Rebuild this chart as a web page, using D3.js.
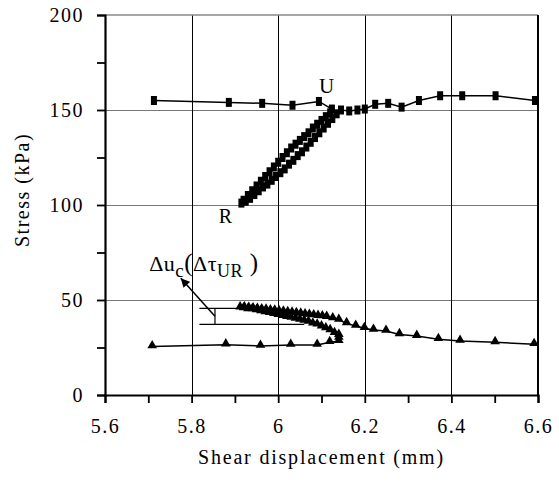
<!DOCTYPE html>
<html lang="en">
<head>
<meta charset="UTF-8">
<title>Stress vs shear displacement</title>
<style>
  body { margin: 0; background: #fff; }
  svg text { font-family: "Liberation Serif", "Times New Roman", serif; fill: #000; }
</style>
</head>
<body>
<script src="https://cdn.jsdelivr.net/npm/d3@7"></script>
<script>
// shear stress (square markers): loading, unloading to R, reloading, continuing past U
var upperX = [5.713, 5.886, 5.963, 6.033, 6.094, 6.124,
  6.12, 6.11, 6.10, 6.09, 6.08, 6.07, 6.06, 6.05, 6.04, 6.03, 6.02, 6.01, 6.00, 5.99, 5.98, 5.97, 5.96, 5.95, 5.94, 5.93, 5.92, 5.915,
  5.925, 5.935, 5.945, 5.955, 5.965, 5.975, 5.985, 5.995, 6.005, 6.015, 6.025, 6.035, 6.045, 6.055, 6.065, 6.075, 6.085, 6.095, 6.105, 6.115, 6.125, 6.135, 6.145,
  6.164, 6.183, 6.200, 6.224, 6.254, 6.285, 6.325, 6.374, 6.425, 6.502, 6.593];
var upperY = [155, 154, 153.5, 152.5, 154.5, 150.5,
  148.5, 146.5, 144.5, 142.5, 140.5, 138, 136, 134, 132, 130, 127.5, 125, 122.5, 120, 117.5, 115, 112.5, 110, 107.5, 105, 102.5, 101,
  102, 103.5, 105.5, 107.5, 109.5, 111, 113, 115, 117, 119, 121.5, 123.5, 126, 128, 130.5, 133, 135.5, 138, 140.5, 143, 145.5, 148, 150,
  149.5, 150, 150.5, 153, 153.5, 151.5, 155, 157.5, 157.5, 157.5, 155];

// pore pressure (triangle markers)
var lowerX = [5.709, 5.879, 5.959, 6.029, 6.090, 6.119, 6.140, 6.140, 6.140,
  6.13, 6.12, 6.11, 6.10, 6.09, 6.08, 6.07, 6.06, 6.05, 6.04, 6.03, 6.02, 6.01, 6.00, 5.99, 5.98, 5.97, 5.96, 5.95, 5.94, 5.93, 5.92, 5.912,
  5.922, 5.932, 5.942, 5.952, 5.962, 5.972, 5.982, 5.992, 6.002, 6.012, 6.022, 6.032, 6.042, 6.052, 6.062, 6.072, 6.082, 6.092, 6.102, 6.112, 6.126, 6.140,
  6.158, 6.179, 6.199, 6.220, 6.249, 6.280, 6.320, 6.370, 6.420, 6.501, 6.591];
var lowerY = [25.5, 26.5, 25.8, 26.3, 26.3, 27.8, 28.3, 30, 31.5,
  32.5, 34, 35, 36, 37, 37.5, 38.5, 39, 39.5, 40, 40.5, 41, 41.5, 42, 42.5, 43, 43.5, 44, 44.5, 45, 45, 45.5, 46,
  46, 45.8, 45.5, 45.3, 45, 44.8, 44.5, 44.3, 44, 43.8, 43.5, 43.2, 43, 42.7, 42.4, 42.1, 41.8, 41.5, 41.3, 41, 40.3, 39.5,
  37.7, 36.3, 35.1, 34.2, 33.7, 31.9, 31, 29.3, 28.4, 27.7, 26.7];

var xTicks = [5.6, 5.7, 5.8, 5.9, 6.0, 6.1, 6.2, 6.3, 6.4, 6.5, 6.6];
var yTicks = [0, 25, 50, 75, 100, 125, 150, 175, 200];
var xGrid = [5.8, 6.0, 6.2, 6.4];
var yGrid = [50, 100, 150];

var serif = '"Liberation Serif", "Times New Roman", serif';

var margin = { top: 15, right: 21, bottom: 91, left: 105 };
var width = 559 - margin.left - margin.right;
var height = 486 - margin.top - margin.bottom;

var x = d3.scaleLinear().domain([5.6, 6.6]).range([0, width]);
var y = d3.scaleLinear().domain([0, 200]).range([height, 0]);

var svg = d3.select('body').append('svg')
  .attr('width', 559)
  .attr('height', 486)
  .attr('font-family', serif)
  .append('g')
  .attr('transform', `translate(${margin.left}, ${margin.top})`);

// grid
svg.selectAll('.hgrid').data(yGrid).enter().append('line')
  .attr('x1', 0).attr('x2', width)
  .attr('y1', d => Math.round(y(d)) + 0.5).attr('y2', d => Math.round(y(d)) + 0.5)
  .attr('stroke', '#777').attr('stroke-width', 1);
svg.selectAll('.vgrid').data(xGrid).enter().append('line')
  .attr('x1', d => Math.round(x(d)) + 0.5).attr('x2', d => Math.round(x(d)) + 0.5)
  .attr('y1', 0).attr('y2', height)
  .attr('stroke', '#000').attr('stroke-width', 1);

// frame: top grey, right black
svg.append('line').attr('x1', 0).attr('x2', width).attr('y1', 0).attr('y2', 0)
  .attr('stroke', '#888').attr('stroke-width', 1.5);
svg.append('line').attr('x1', width).attr('x2', width).attr('y1', 0).attr('y2', height)
  .attr('stroke', '#000').attr('stroke-width', 2);

// axes
var xAxis = svg.append('g')
  .attr('transform', `translate(0, ${height})`)
  .call(d3.axisBottom(x).tickValues(xTicks).tickSize(8).tickPadding(16)
    .tickFormat(d => Math.round(d * 10) % 2 === 0 ? String(+d.toFixed(1)) : ''));
var yAxis = svg.append('g')
  .call(d3.axisLeft(y).tickValues(yTicks).tickSize(8).tickPadding(13)
    .tickFormat(d => d % 50 === 0 ? d : ''));

[xAxis, yAxis].forEach(function(a) {
  a.attr('font-family', serif).attr('font-size', 20);
  a.select('.domain').attr('stroke-width', 2.2);
  a.selectAll('.tick line').attr('stroke-width', 1.8);
  a.selectAll('.tick text')
    .style('font-size', '20px')
    .style('letter-spacing', '1.5px');
});

// series lines
var lineFn = d3.line().x(d => x(d[0])).y(d => y(d[1]));
var upper = upperX.map((v, i) => [v, upperY[i]]);
var lower = lowerX.map((v, i) => [v, lowerY[i]]);

svg.append('path').datum(upper).attr('d', lineFn)
  .attr('fill', 'none').attr('stroke', '#000').attr('stroke-width', 1.5);
svg.append('path').datum(lower).attr('d', lineFn)
  .attr('fill', 'none').attr('stroke', '#000').attr('stroke-width', 1.5);

svg.selectAll('.sq').data(upper).enter().append('rect')
  .attr('x', d => x(d[0]) - 3)
  .attr('y', d => y(d[1]) - 4.5)
  .attr('width', 6).attr('height', 9)
  .attr('fill', '#000');

svg.selectAll('.tri').data(lower).enter().append('path')
  .attr('d', d3.symbol().type(d3.symbolTriangle).size(40))
  .attr('transform', d => `translate(${x(d[0])}, ${y(d[1]) - 1})`)
  .attr('fill', '#000');

// annotations
svg.append('text').text('U')
  .attr('x', x(6.112)).attr('y', y(159))
  .attr('text-anchor', 'middle').style('font-size', '21px');
svg.append('text').text('R')
  .attr('x', x(5.878)).attr('y', y(90.5))
  .attr('text-anchor', 'middle').style('font-size', '20px');

// bracket for delta u
svg.append('line').attr('x1', x(5.818)).attr('x2', x(5.912))
  .attr('y1', y(45.6)).attr('y2', y(45.6)).attr('stroke', '#000').attr('stroke-width', 1.2);
svg.append('line').attr('x1', x(5.818)).attr('x2', x(6.06))
  .attr('y1', y(37.2)).attr('y2', y(37.2)).attr('stroke', '#000').attr('stroke-width', 1.2);
svg.append('line').attr('x1', x(5.854)).attr('x2', x(5.854))
  .attr('y1', y(45.6)).attr('y2', y(37.2)).attr('stroke', '#000').attr('stroke-width', 1.2);

svg.append('defs').append('marker')
  .attr('id', 'arrow')
  .attr('viewBox', '0 0 10 10')
  .attr('refX', 10).attr('refY', 5)
  .attr('markerWidth', 10).attr('markerHeight', 9)
  .attr('markerUnits', 'userSpaceOnUse')
  .attr('orient', 'auto')
  .append('path').attr('d', 'M0,0 L10,5 L0,10 z').attr('fill', '#000');

svg.append('line')
  .attr('x1', x(5.854)).attr('y1', y(41.5))
  .attr('x2', x(5.775)).attr('y2', y(61.5))
  .attr('stroke', '#000').attr('stroke-width', 1.5)
  .attr('marker-end', 'url(#arrow)');

var du = svg.append('text')
  .attr('x', x(5.702)).attr('y', y(65.5))
  .style('font-size', '22px').style('letter-spacing', '0.5px');
du.append('tspan').text('Δu');
du.append('tspan').text('c').attr('dy', 6).style('font-size', '19px');
du.append('tspan').text('(').attr('dy', -6).style('font-size', '25px');
du.append('tspan').text('Δτ');
du.append('tspan').text('UR').attr('dy', 6).style('font-size', '18px');
du.append('tspan').text(' )').attr('dy', -6).style('font-size', '25px');

// axis titles
svg.append('text')
  .text('Shear displacement (mm)')
  .attr('text-anchor', 'middle')
  .attr('x', width / 2).attr('y', height + 69)
  .style('font-size', '20px').style('letter-spacing', '1.8px');

svg.append('text')
  .text('Stress (kPa)')
  .attr('transform', 'rotate(-90)')
  .attr('text-anchor', 'middle')
  .attr('x', -(190 - margin.top)).attr('y', 29 - margin.left)
  .style('font-size', '20px').style('letter-spacing', '1.5px');
</script>
</body>
</html>
